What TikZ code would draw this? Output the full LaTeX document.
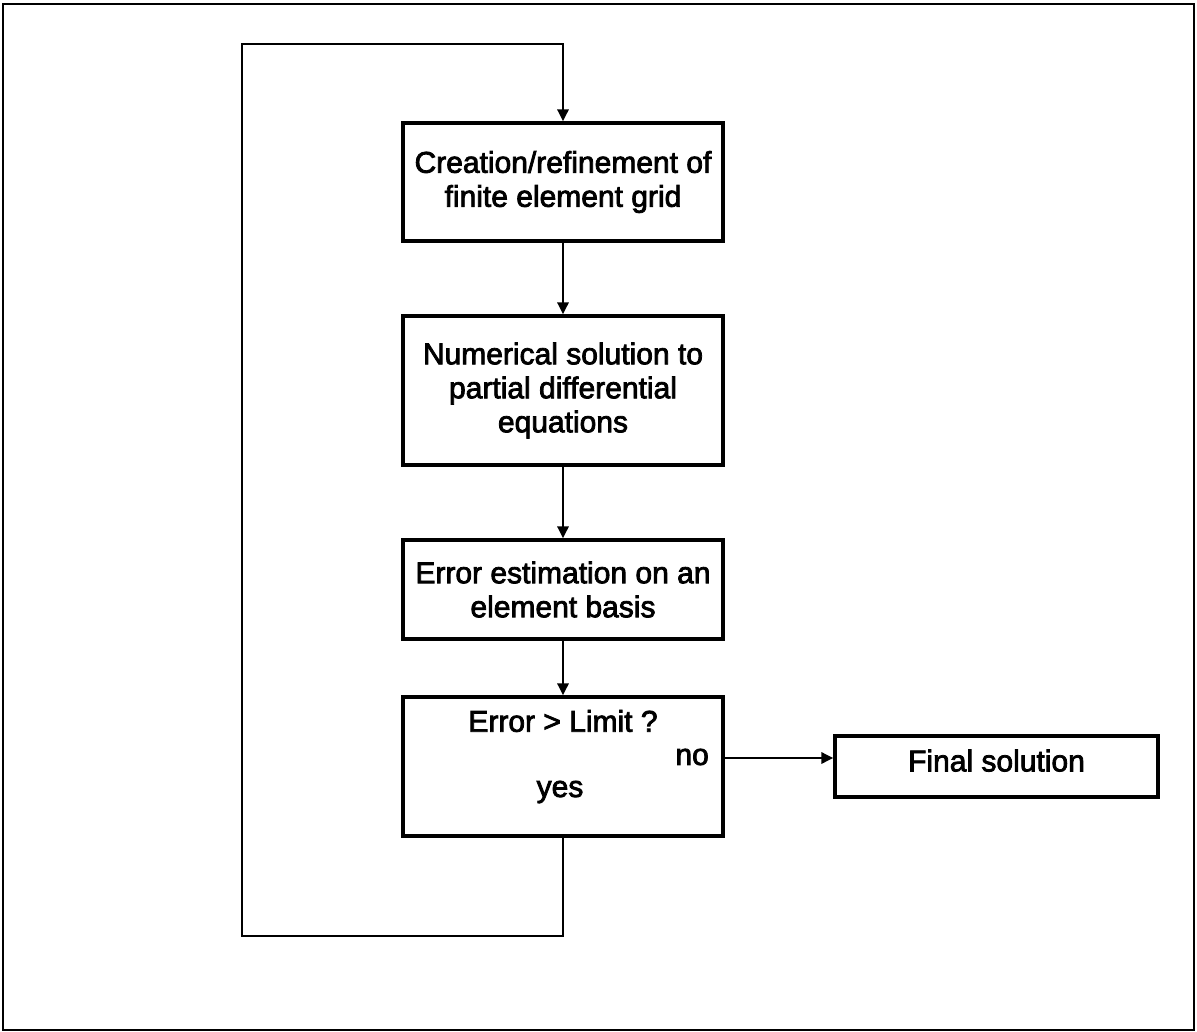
\documentclass[tikz,border=0pt]{standalone}
\usepackage{fontspec}
\setmainfont{Liberation Sans}
\newfontfamily\flfont{Liberation Sans}[FakeBold=2.6]
\usepackage{tikz}
\usetikzlibrary{positioning,arrows.meta,calc}
\tikzset{
  fl/.style={align=center, font=\flfont\fontsize{30}{34}\selectfont, inner sep=2pt},
  fl box/.style={fl, draw=black, line width=3.2pt, minimum width=320pt},
  fl arr/.style={-{Triangle[length=12pt, width=11pt]}, line width=2.8pt, black},
  fl lbl/.style={fl, inner sep=0pt},
}
\begin{document}
\begin{tikzpicture}[x=1pt, y=-1pt]
  \useasboundingbox (0,0) rectangle (1197,1032);
  \draw[line width=2.6pt] (3,4) rectangle (1194,1030);
  % main column
  \node[fl box, minimum height=118pt] (grid) at (563,182) {Creation/refinement of\\finite element grid};
  \node[fl box, minimum height=149pt] (pde) at (563,390.5) {Numerical solution to\\partial differential\\equations};
  \node[fl box, minimum height=99pt] (est) at (563,589.5) {Error estimation on an\\element basis};
  \node[fl box, minimum height=139pt] (chk) at (563,766.5) {};
  \node[fl lbl] (q) at (563,721) {Error > Limit ?};
  \node[fl lbl, anchor=east] (no) at (709,757) {no};
  \node[fl lbl] (yes) at (560,792) {yes};
  \node[fl box, minimum width=323pt, minimum height=61pt, text depth=12pt] (fin) at (996.5,766.5) {Final solution};
  \draw[fl arr] (grid) -- (pde); \draw[fl arr] (pde) -- (est); \draw[fl arr] (est) -- (chk);
  \draw[fl arr] ([yshift=8.5pt]chk.east) -- ([yshift=8.5pt]fin.west);
  % loop back
  \coordinate (lb) at (242,936);
  \coordinate (lt) at (242,44);
  \draw[fl arr] (chk.south) |- (lb) -- (lt) -| (grid.north);
\end{tikzpicture}
\end{document}
